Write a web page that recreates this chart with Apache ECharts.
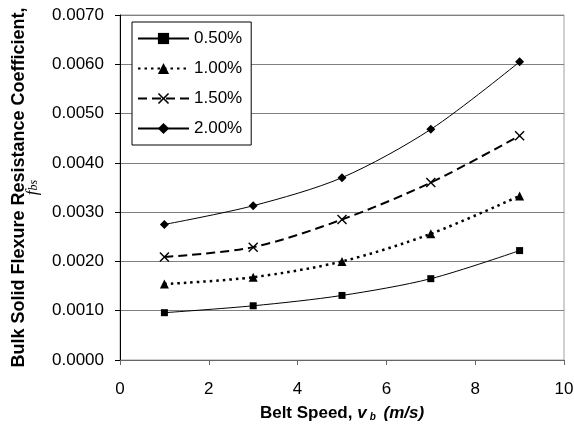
<!DOCTYPE html>
<html>
<head>
<meta charset="utf-8">
<script src="https://cdn.jsdelivr.net/npm/echarts@6/dist/echarts.min.js"></script>
<style>html,body{margin:0;padding:0;background:#fff;}#c{width:574px;height:432px;}</style>
</head>
<body>
<div id="c"></div>
<script>
var speeds = [1, 3, 5, 7, 9];
var seriesNames = ['0.50%', '1.00%', '1.50%', '2.00%'];
var s050 = [0.00096, 0.00110, 0.00131, 0.00165, 0.00222];
var s100 = [0.00154, 0.00168, 0.00200, 0.00256, 0.00333];
var s150 = [0.00209, 0.00229, 0.00285, 0.00360, 0.00455];
var s200 = [0.00275, 0.00313, 0.00370, 0.00468, 0.00605];
var xTicks = [0, 2, 4, 6, 8, 10];
var yTicks = [0, 0.001, 0.002, 0.003, 0.004, 0.005, 0.006, 0.007];

function pairs(vals) { return speeds.map(function (x, i) { return [x, vals[i]]; }); }

var crossPath = 'path://M0,1L1,0L5,4L9,0L10,1L6,5L10,9L9,10L5,6L1,10L0,9L4,5Z';
var font = 'Liberation Sans, Arial, sans-serif';
var serif = 'Liberation Serif, Times New Roman, serif';

var chart = echarts.init(document.getElementById('c'), null, {renderer: 'canvas'});
chart.setOption({
  backgroundColor: '#fff',
  animation: false,
  textStyle: {fontFamily: font, color: '#000'},
  grid: {left: 120, top: 15, right: 10, bottom: 72, containLabel: false, outerBoundsMode: 'none',
    show: true, borderColor: '#a0a0a0', borderWidth: 1, backgroundColor: 'transparent'},
  legend: {
    orient: 'vertical', left: 132, top: 22,
    padding: [8, 9, 8, 5],
    itemWidth: 51, itemHeight: 14, itemGap: 13,
    backgroundColor: '#fff', borderColor: '#000', borderWidth: 1,
    textStyle: {fontSize: 17, color: '#000', fontFamily: font},
    data: seriesNames
  },
  xAxis: {
    type: 'value', min: xTicks[0], max: xTicks[xTicks.length - 1], interval: 2,
    axisLine: {show: true, lineStyle: {color: '#666', width: 1}},
    axisTick: {show: true, inside: false, length: 5, lineStyle: {color: '#666'}},
    splitLine: {show: false},
    axisLabel: {fontSize: 17, color: '#000', margin: 21, fontFamily: font},
    name: '{b|Belt Speed, }{bi|v}{sub|b}{bi| (m/s)}',
    nameLocation: 'middle', nameGap: 45,
    nameTextStyle: {
      rich: {
        b: {fontSize: 17, fontWeight: 'bold', fontFamily: font, color: '#000'},
        bi: {fontSize: 17, fontWeight: 'bold', fontStyle: 'italic', fontFamily: font, color: '#000'},
        sub: {fontSize: 10, fontWeight: 'bold', fontStyle: 'italic', fontFamily: font, color: '#000', verticalAlign: 'bottom', padding: [6, 3, 0, 3]}
      }
    }
  },
  yAxis: {
    type: 'value', min: yTicks[0], max: yTicks[yTicks.length - 1], interval: 0.001,
    axisLine: {show: true, lineStyle: {color: '#000', width: 1}},
    axisTick: {show: true, inside: false, length: 5, lineStyle: {color: '#000'}},
    splitLine: {show: true, lineStyle: {color: '#808080', width: 1}},
    axisLabel: {fontSize: 17, color: '#000', margin: 16, fontFamily: font, formatter: function (v) { return v.toFixed(4); }},
    name: '{b|Bulk Solid Flexure Resistance Coefficient,}\n{fi|f}{sub|bs}',
    nameLocation: 'middle', nameGap: 80, nameRotate: 90,
    nameTextStyle: {
      align: 'center',
      rich: {
        b: {fontSize: 18, fontWeight: 'bold', fontFamily: font, color: '#000', lineHeight: 14},
        fi: {fontSize: 17, fontStyle: 'italic', fontFamily: serif, color: '#000', lineHeight: 14},
        sub: {fontSize: 12, fontStyle: 'italic', fontFamily: serif, color: '#000', verticalAlign: 'bottom', lineHeight: 14, padding: [5, 0, 0, 0]}
      }
    }
  },
  series: [
    {name: seriesNames[0], type: 'line', data: pairs(s050), smooth: 0.3,
      symbol: 'rect', symbolSize: 7,
      lineStyle: {color: '#000', width: 1, type: 'solid'}, itemStyle: {color: '#000'}},
    {name: seriesNames[1], type: 'line', data: pairs(s100), smooth: 0.3,
      symbol: 'triangle', symbolSize: 9,
      lineStyle: {color: '#000', width: 2.5, type: [2.5, 4]}, itemStyle: {color: '#000'}},
    {name: seriesNames[2], type: 'line', data: pairs(s150), smooth: 0.3,
      symbol: crossPath, symbolSize: 10,
      lineStyle: {color: '#000', width: 2, type: [9, 5]}, itemStyle: {color: '#000'}},
    {name: seriesNames[3], type: 'line', data: pairs(s200), smooth: 0.3,
      symbol: 'diamond', symbolSize: 9,
      lineStyle: {color: '#000', width: 1, type: 'solid'}, itemStyle: {color: '#000'}}
  ]
});
</script>
</body>
</html>
